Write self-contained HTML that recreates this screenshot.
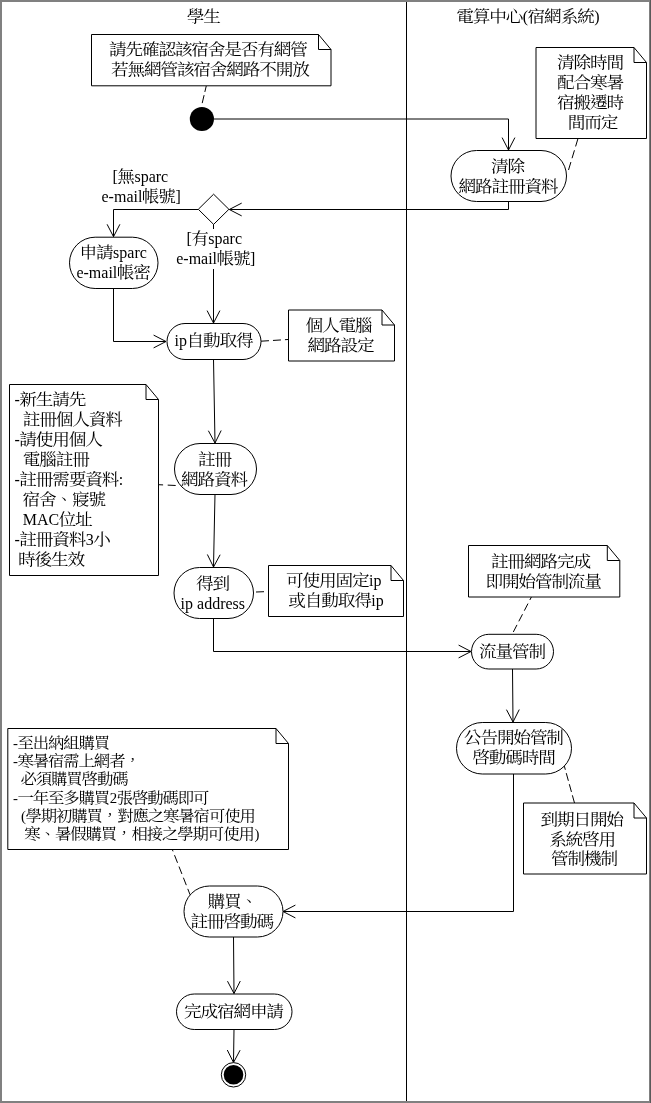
<!DOCTYPE html>
<html lang="zh-Hant"><head><meta charset="utf-8"><title>宿網申請流程</title>
<style>
html,body{margin:0;padding:0;background:#fff;}
svg{display:block;will-change:transform;filter:grayscale(1);}
text{font-family:"Liberation Serif", "Noto Serif CJK SC", serif;fill:#000;font-weight:400;}
</style></head><body>
<svg width="651" height="1103" viewBox="0 0 651 1103">
<rect x="0" y="0" width="651" height="1103" fill="#808080"/>
<rect x="650" y="0" width="1" height="1103" fill="#5a5a5a"/>
<rect x="2" y="2" width="647" height="1099" fill="#fff"/>
<path d="M406.5,2 L406.5,1101" fill="none" stroke="#000" stroke-width="1"/>
<path d="M206.3,85.8 L202.0,104" fill="none" stroke="#000" stroke-width="1" stroke-dasharray="6.3,3.3,8.2,100"/>
<path d="M214,119 L508.5,119 L508.5,150" fill="none" stroke="#000" stroke-width="1"/>
<path d="M502.10,137.60 L508.5,150 L514.90,137.60" fill="none" stroke="#000" stroke-width="1"/>
<path d="M508.5,201 L508.5,209.5 L229.3,209.5" fill="none" stroke="#000" stroke-width="1"/>
<path d="M241.70,203.10 L229.3,209.5 L241.70,215.90" fill="none" stroke="#000" stroke-width="1"/>
<path d="M198,209.5 L113.5,209.5 L113.5,236.7" fill="none" stroke="#000" stroke-width="1"/>
<path d="M107.10,224.30 L113.5,236.7 L119.90,224.30" fill="none" stroke="#000" stroke-width="1"/>
<path d="M213.5,224 L213.5,323" fill="none" stroke="#000" stroke-width="1"/>
<path d="M207.10,310.60 L213.5,323 L219.90,310.60" fill="none" stroke="#000" stroke-width="1"/>
<path d="M113.5,288 L113.5,341.5 L166,341.5" fill="none" stroke="#000" stroke-width="1"/>
<path d="M153.60,347.90 L166,341.5 L153.60,335.10" fill="none" stroke="#000" stroke-width="1"/>
<path d="M261,341.2 L288,339.5" fill="none" stroke="#000" stroke-width="1" stroke-dasharray="8,4"/>
<path d="M213.5,359 L215,443" fill="none" stroke="#000" stroke-width="1"/>
<path d="M208.38,430.72 L215,443 L221.18,430.49" fill="none" stroke="#000" stroke-width="1"/>
<path d="M158.5,484.7 L176,485.5" fill="none" stroke="#000" stroke-width="1" stroke-dasharray="4.6,4.6,8,100"/>
<path d="M215,494 L213.5,567" fill="none" stroke="#000" stroke-width="1"/>
<path d="M207.36,554.47 L213.5,567 L220.15,554.73" fill="none" stroke="#000" stroke-width="1"/>
<path d="M256,592 L264,591.7" fill="none" stroke="#000" stroke-width="1"/>
<path d="M213.5,618 L213.5,651.5 L471,651.5" fill="none" stroke="#000" stroke-width="1"/>
<path d="M458.60,657.90 L471,651.5 L458.60,645.10" fill="none" stroke="#000" stroke-width="1"/>
<path d="M513.3,632 L531.4,597" fill="none" stroke="#000" stroke-width="1" stroke-dasharray="8,4"/>
<path d="M512.5,669 L513,722" fill="none" stroke="#000" stroke-width="1"/>
<path d="M506.48,709.66 L513,722 L519.28,709.54" fill="none" stroke="#000" stroke-width="1"/>
<path d="M574.5,803 L564.3,766" fill="none" stroke="#000" stroke-width="1" stroke-dasharray="8,3.5"/>
<path d="M513.5,774 L513.5,911.5 L283,911.5" fill="none" stroke="#000" stroke-width="1"/>
<path d="M295.40,905.10 L283,911.5 L295.40,917.90" fill="none" stroke="#000" stroke-width="1"/>
<path d="M172.3,849.5 L190.1,894.8" fill="none" stroke="#000" stroke-width="1" stroke-dasharray="2,4.1,8.2,4,8,4,8,4,8,4"/>
<path d="M568.5,170.0 L578.0,138.5" fill="none" stroke="#000" stroke-width="1" stroke-dasharray="8.3,4"/>
<path d="M233.5,937 L234,993.5" fill="none" stroke="#000" stroke-width="1"/>
<path d="M227.49,981.16 L234,993.5 L240.29,981.04" fill="none" stroke="#000" stroke-width="1"/>
<path d="M234,1029 L233.5,1062.5" fill="none" stroke="#000" stroke-width="1"/>
<path d="M227.29,1050.01 L233.5,1062.5 L240.08,1050.20" fill="none" stroke="#000" stroke-width="1"/>
<circle cx="201.9" cy="119" r="12.1" fill="#000"/>
<path d="M213.6,194.2 L228.9,209.3 L213.6,224.4 L198.3,209.3 Z" fill="#fff" stroke="#000" stroke-width="1"/>
<circle cx="233.5" cy="1074.8" r="12.2" fill="#fff" stroke="#000"/>
<circle cx="233.5" cy="1074.8" r="9.8" fill="#000"/>
<path d="M91.5,34.5 L318.5,34.5 L331,49.5 L331,85.8 L91.5,85.8 Z" fill="#fff" stroke="#000" stroke-width="1"/>
<path d="M318.5,34.5 L318.5,49.5 L331,49.5" fill="none" stroke="#000" stroke-width="1"/>
<path d="M536,47.5 L634.0,47.5 L646.5,62.5 L646.5,138.5 L536,138.5 Z" fill="#fff" stroke="#000" stroke-width="1"/>
<path d="M634.0,47.5 L634.0,62.5 L646.5,62.5" fill="none" stroke="#000" stroke-width="1"/>
<rect x="451" y="150.5" width="115.5" height="51.0" rx="25.5" ry="25.5" fill="#fff" stroke="#000" stroke-width="1"/>
<rect x="170" y="229" width="90" height="40" fill="#fff"/>
<rect x="69.5" y="237.2" width="88.5" height="51.30000000000001" rx="25.650000000000006" ry="25.650000000000006" fill="#fff" stroke="#000" stroke-width="1"/>
<rect x="167" y="323.5" width="94" height="36.0" rx="18.0" ry="18.0" fill="#fff" stroke="#000" stroke-width="1"/>
<path d="M288.5,310 L382.0,310 L394.5,325 L394.5,361 L288.5,361 Z" fill="#fff" stroke="#000" stroke-width="1"/>
<path d="M382.0,310 L382.0,325 L394.5,325" fill="none" stroke="#000" stroke-width="1"/>
<rect x="174.5" y="443.5" width="82.0" height="51.0" rx="25.5" ry="25.5" fill="#fff" stroke="#000" stroke-width="1"/>
<path d="M9.5,384.5 L146.0,384.5 L158.5,399.5 L158.5,575.5 L9.5,575.5 Z" fill="#fff" stroke="#000" stroke-width="1"/>
<path d="M146.0,384.5 L146.0,399.5 L158.5,399.5" fill="none" stroke="#000" stroke-width="1"/>
<rect x="174" y="567.5" width="79.5" height="51.0" rx="25.5" ry="25.5" fill="#fff" stroke="#000" stroke-width="1"/>
<path d="M268.5,565.5 L391.0,565.5 L403.5,580.5 L403.5,616.5 L268.5,616.5 Z" fill="#fff" stroke="#000" stroke-width="1"/>
<path d="M391.0,565.5 L391.0,580.5 L403.5,580.5" fill="none" stroke="#000" stroke-width="1"/>
<rect x="471.5" y="634.3" width="82.0" height="34.700000000000045" rx="17.350000000000023" ry="17.350000000000023" fill="#fff" stroke="#000" stroke-width="1"/>
<path d="M468.5,545.5 L607.3,545.5 L619.8,560.5 L619.8,597 L468.5,597 Z" fill="#fff" stroke="#000" stroke-width="1"/>
<path d="M607.3,545.5 L607.3,560.5 L619.8,560.5" fill="none" stroke="#000" stroke-width="1"/>
<rect x="456.5" y="722.5" width="115.0" height="51.5" rx="25.75" ry="25.75" fill="#fff" stroke="#000" stroke-width="1"/>
<path d="M523.5,803 L634.0,803 L646.5,818 L646.5,874 L523.5,874 Z" fill="#fff" stroke="#000" stroke-width="1"/>
<path d="M634.0,803 L634.0,818 L646.5,818" fill="none" stroke="#000" stroke-width="1"/>
<rect x="184" y="886" width="99" height="51" rx="25.5" ry="25.5" fill="#fff" stroke="#000" stroke-width="1"/>
<path d="M7.8,728.5 L276.0,728.5 L288.5,743.5 L288.5,849.5 L7.8,849.5 Z" fill="#fff" stroke="#000" stroke-width="1"/>
<path d="M276.0,728.5 L276.0,743.5 L288.5,743.5" fill="none" stroke="#000" stroke-width="1"/>
<rect x="176.5" y="994" width="115.5" height="35.5" rx="17.75" ry="17.75" fill="#fff" stroke="#000" stroke-width="1"/>
<g><text transform="translate(186.72,22.4) scale(1.07,0.93)" font-size="16.5" letter-spacing="-1.079">學生</text></g>
<g><text transform="translate(456.22,22.4) scale(1.07,0.93)" font-size="16.5" letter-spacing="-1.079">電算中心</text><text transform="translate(522.80,22.4) scale(0.97,1.0)" font-size="16.5">(</text><text transform="translate(527.55,22.4) scale(1.07,0.93)" font-size="16.5" letter-spacing="-1.079">宿網系統</text><text transform="translate(594.13,22.4) scale(0.97,1.0)" font-size="16.5">)</text></g>
<g><text transform="translate(108.92,55.0) scale(1.07,0.93)" font-size="16.5" letter-spacing="-1.079">請先確認該宿舍是否有網管</text></g>
<g><text transform="translate(110.92,75.0) scale(1.07,0.93)" font-size="16.5" letter-spacing="-1.079">若無網管該宿舍網路不開放</text></g>
<g><text transform="translate(557.12,68.4) scale(1.07,0.93)" font-size="16.5" letter-spacing="-1.079">清除時間</text></g>
<g><text transform="translate(557.12,88.4) scale(1.07,0.93)" font-size="16.5" letter-spacing="-1.079">配合寒暑</text></g>
<g><text transform="translate(557.12,108.4) scale(1.07,0.93)" font-size="16.5" letter-spacing="-1.079">宿搬遷時</text></g>
<g><text transform="translate(567.72,128.4) scale(1.07,0.93)" font-size="16.5" letter-spacing="-1.079">間而定</text></g>
<g><text transform="translate(490.92,172.4) scale(1.07,0.93)" font-size="16.5" letter-spacing="-1.079">清除</text></g>
<g><text transform="translate(458.62,192.4) scale(1.07,0.93)" font-size="16.5" letter-spacing="-1.079">網路註冊資料</text></g>
<g><text transform="translate(112.60,182.4) scale(0.97,1.0)" font-size="16.5">[</text><text transform="translate(117.35,182.4) scale(1.07,0.93)" font-size="16.5" letter-spacing="-1.079">無</text><text transform="translate(134.43,182.4) scale(0.97,1.0)" font-size="16.5">sparc</text></g>
<g><text transform="translate(101.50,201.8) scale(0.97,1.0)" font-size="16.5">e-mail</text><text transform="translate(141.80,201.8) scale(1.07,0.93)" font-size="16.5" letter-spacing="-1.079">帳號</text><text transform="translate(175.38,201.8) scale(0.97,1.0)" font-size="16.5">]</text></g>
<g><text transform="translate(186.40,244.4) scale(0.97,1.0)" font-size="16.5">[</text><text transform="translate(191.15,244.4) scale(1.07,0.93)" font-size="16.5" letter-spacing="-1.079">有</text><text transform="translate(208.23,244.4) scale(0.97,1.0)" font-size="16.5">sparc</text></g>
<g><text transform="translate(176.20,264.4) scale(0.97,1.0)" font-size="16.5">e-mail</text><text transform="translate(216.50,264.4) scale(1.07,0.93)" font-size="16.5" letter-spacing="-1.079">帳號</text><text transform="translate(250.08,264.4) scale(0.97,1.0)" font-size="16.5">]</text></g>
<g><text transform="translate(79.52,257.9) scale(1.07,0.93)" font-size="16.5" letter-spacing="-1.079">申請</text><text transform="translate(113.10,257.9) scale(0.97,1.0)" font-size="16.5">sparc</text></g>
<g><text transform="translate(76.40,277.9) scale(0.97,1.0)" font-size="16.5">e-mail</text><text transform="translate(116.70,277.9) scale(1.07,0.93)" font-size="16.5" letter-spacing="-1.079">帳密</text></g>
<g><text transform="translate(174.60,346.4) scale(0.97,1.0)" font-size="16.5">ip</text><text transform="translate(186.47,346.4) scale(1.07,0.93)" font-size="16.5" letter-spacing="-1.079">自動取得</text></g>
<g><text transform="translate(305.62,330.9) scale(1.07,0.93)" font-size="16.5" letter-spacing="-1.079">個人電腦</text></g>
<g><text transform="translate(307.42,350.9) scale(1.07,0.93)" font-size="16.5" letter-spacing="-1.079">網路設定</text></g>
<g><text transform="translate(198.12,465.1) scale(1.07,0.93)" font-size="16.5" letter-spacing="-1.079">註冊</text></g>
<g><text transform="translate(181.12,485.1) scale(1.07,0.93)" font-size="16.5" letter-spacing="-1.079">網路資料</text></g>
<g><text transform="translate(14.50,405.4) scale(0.97,1.0)" font-size="16.5">-</text><text transform="translate(19.25,405.4) scale(1.07,0.93)" font-size="16.5" letter-spacing="-1.079">新生請先</text></g>
<g><text transform="translate(22.82,425.4) scale(1.07,0.93)" font-size="16.5" letter-spacing="-1.079">註冊個人資料</text></g>
<g><text transform="translate(14.50,445.4) scale(0.97,1.0)" font-size="16.5">-</text><text transform="translate(19.25,445.4) scale(1.07,0.93)" font-size="16.5" letter-spacing="-1.079">請使用個人</text></g>
<g><text transform="translate(22.82,465.4) scale(1.07,0.93)" font-size="16.5" letter-spacing="-1.079">電腦註冊</text></g>
<g><text transform="translate(14.50,485.4) scale(0.97,1.0)" font-size="16.5">-</text><text transform="translate(19.25,485.4) scale(1.07,0.93)" font-size="16.5" letter-spacing="-1.079">註冊需要資料</text><text transform="translate(118.83,485.4) scale(0.97,1.0)" font-size="16.5">:</text></g>
<g><text transform="translate(22.62,505.4) scale(1.07,0.93)" font-size="16.5" letter-spacing="-1.079">宿舍、寢號</text></g>
<g><text transform="translate(22.70,525.4) scale(0.97,1.0)" font-size="16.5">MAC</text><text transform="translate(58.59,525.4) scale(1.07,0.93)" font-size="16.5" letter-spacing="-1.079">位址</text></g>
<g><text transform="translate(14.50,545.4) scale(0.97,1.0)" font-size="16.5">-</text><text transform="translate(19.25,545.4) scale(1.07,0.93)" font-size="16.5" letter-spacing="-1.079">註冊資料</text><text transform="translate(85.83,545.4) scale(0.97,1.0)" font-size="16.5">3</text><text transform="translate(93.25,545.4) scale(1.07,0.93)" font-size="16.5" letter-spacing="-1.079">小</text></g>
<g><text transform="translate(18.02,565.4) scale(1.07,0.93)" font-size="16.5" letter-spacing="-1.079">時後生效</text></g>
<g><text transform="translate(195.92,588.6) scale(1.07,0.93)" font-size="16.5" letter-spacing="-1.079">得到</text></g>
<g><text transform="translate(180.60,608.6) scale(0.97,1.0)" font-size="16.5">ip address</text></g>
<g><text transform="translate(285.92,586.4) scale(1.07,0.93)" font-size="16.5" letter-spacing="-1.079">可使用固定</text><text transform="translate(369.00,586.4) scale(0.97,1.0)" font-size="16.5">ip</text></g>
<g><text transform="translate(288.22,606.4) scale(1.07,0.93)" font-size="16.5" letter-spacing="-1.079">或自動取得</text><text transform="translate(371.30,606.4) scale(0.97,1.0)" font-size="16.5">ip</text></g>
<g><text transform="translate(478.92,657.1) scale(1.07,0.93)" font-size="16.5" letter-spacing="-1.079">流量管制</text></g>
<g><text transform="translate(491.12,566.9) scale(1.07,0.93)" font-size="16.5" letter-spacing="-1.079">註冊網路完成</text></g>
<g><text transform="translate(485.42,586.9) scale(1.07,0.93)" font-size="16.5" letter-spacing="-1.079">即開始管制流量</text></g>
<g><text transform="translate(463.92,743.4) scale(1.07,0.93)" font-size="16.5" letter-spacing="-1.079">公告開始管制</text></g>
<g><text transform="translate(472.22,763.4) scale(1.07,0.93)" font-size="16.5" letter-spacing="-1.079">啓動碼時間</text></g>
<g><text transform="translate(540.62,824.7) scale(1.07,0.93)" font-size="16.5" letter-spacing="-1.079">到期日開始</text></g>
<g><text transform="translate(548.92,844.6) scale(1.07,0.93)" font-size="16.5" letter-spacing="-1.079">系統啓用</text></g>
<g><text transform="translate(550.92,864.4) scale(1.07,0.93)" font-size="16.5" letter-spacing="-1.079">管制機制</text></g>
<g><text transform="translate(207.62,906.9) scale(1.07,0.93)" font-size="16.5" letter-spacing="-1.079">購買、</text></g>
<g><text transform="translate(190.42,926.9) scale(1.07,0.93)" font-size="16.5" letter-spacing="-1.079">註冊啓動碼</text></g>
<g><text transform="translate(13.00,747.8) scale(0.97,1.0)" font-size="15.3">-</text><text transform="translate(17.41,747.8) scale(1.07,0.93)" font-size="15.3" letter-spacing="-1.001">至出納組購買</text></g>
<g><text transform="translate(13.00,766.1) scale(0.97,1.0)" font-size="15.3">-</text><text transform="translate(17.41,766.1) scale(1.07,0.93)" font-size="15.3" letter-spacing="-1.001">寒暑宿需上網者，</text></g>
<g><text transform="translate(20.46,784.4) scale(1.07,0.93)" font-size="15.3" letter-spacing="-1.001">必須購買啓動碼</text></g>
<g><text transform="translate(13.00,802.7) scale(0.97,1.0)" font-size="15.3">-</text><text transform="translate(17.41,802.7) scale(1.07,0.93)" font-size="15.3" letter-spacing="-1.001">一年至多購買</text><text transform="translate(109.74,802.7) scale(0.97,1.0)" font-size="15.3">2</text><text transform="translate(116.63,802.7) scale(1.07,0.93)" font-size="15.3" letter-spacing="-1.001">張啓動碼即可</text></g>
<g><text transform="translate(21.00,821.0) scale(0.97,1.0)" font-size="15.3">(</text><text transform="translate(25.41,821.0) scale(1.07,0.93)" font-size="15.3" letter-spacing="-1.001">學期初購買，對應之寒暑宿可使用</text></g>
<g><text transform="translate(24.36,839.3) scale(1.07,0.93)" font-size="15.3" letter-spacing="-1.001">寒、暑假購買，相接之學期可使用</text><text transform="translate(254.40,839.3) scale(0.97,1.0)" font-size="15.3">)</text></g>
<g><text transform="translate(183.92,1017.4) scale(1.07,0.93)" font-size="16.5" letter-spacing="-1.079">完成宿網申請</text></g>
</svg>
</body></html>
